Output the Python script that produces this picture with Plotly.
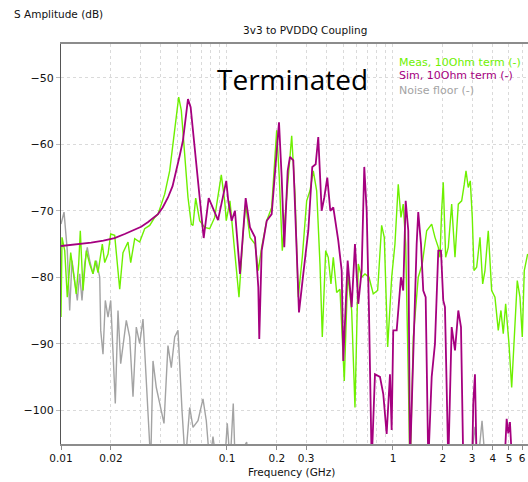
import plotly.graph_objects as go

# ---------------- data ----------------
sim_f = [0.01, 0.012, 0.0152, 0.018, 0.021, 0.0242, 0.027, 0.0304, 0.0335, 0.0384, 0.041, 0.0441,
         0.047, 0.0495, 0.052, 0.0543, 0.0563, 0.0582, 0.0604,
         0.0644, 0.0685, 0.0724, 0.0776, 0.0823, 0.0883, 0.099, 0.1018, 0.1067, 0.1117,
         0.1198, 0.1296, 0.1376, 0.1475, 0.1544, 0.1565, 0.1618, 0.1735, 0.1859, 0.1947,
         0.2058, 0.2136, 0.2214, 0.2321, 0.2396, 0.2509, 0.263, 0.2715, 0.2882, 0.3089,
         0.3265, 0.3422, 0.3548, 0.3719, 0.3856, 0.402, 0.4191, 0.437, 0.4683, 0.4909,
         0.5019, 0.5334, 0.5639, 0.5903, 0.618, 0.6477, 0.6716, 0.6943, 0.7168, 0.7443,
         0.7791, 0.8351, 0.8743, 0.9162, 0.9592, 0.982, 1.004, 1.053, 1.117, 1.153,
         1.193, 1.237, 1.266, 1.326, 1.389, 1.42, 1.475, 1.522, 1.574, 1.632,
         1.711, 1.791, 1.875, 1.946, 2.009, 2.057, 2.154, 2.258, 2.364, 2.475,
         2.569, 2.652, 3.0, 3.046, 3.119, 3.193, 4.7, 4.841, 4.95, 5.068, 5.22, 6.6]
sim_db = [-75.3, -75.1, -74.8, -74.5, -74.1, -73.5, -73.0, -72.4, -71.7, -70.5, -69.5, -68.0,
          -66.3, -64.0, -61.6, -59.4, -56.2, -53.2, -54.4,
          -61.4, -67.5, -74.1, -68.1, -69.5, -71.4, -65.5, -68.5, -71.5, -70.0,
          -79.5, -68.1, -72.5, -74.0, -81.5, -89.3, -76.0, -71.5, -70.5, -64.0,
          -56.7, -65.0, -75.5, -64.0, -61.9, -62.4, -77.5, -85.3, -79.5, -73.0,
          -63.4, -63.0, -58.9, -70.0, -68.0, -65.0, -70.0, -69.5, -74.5, -79.0,
          -92.6, -77.5, -84.5, -75.0, -84.0, -79.0, -63.4, -70.0, -85.0, -108.0,
          -94.6, -95.0, -97.6, -103.6, -94.6, -103.0, -88.0, -88.0, -80.0, -82.0,
          -68.5, -73.0, -108.0, -90.0, -75.0, -70.2, -75.0, -82.0, -83.0, -108.0,
          -95.0, -90.0, -76.0, -76.0, -83.5, -84.5, -108.0, -87.5, -91.0, -85.0,
          -87.5, -108.0, -108.0, -99.0, -94.6, -108.0, -108.0, -101.3, -103.5, -101.8, -108.0, -108.0]

meas_f = [0.01, 0.01014, 0.01053, 0.01091, 0.01144, 0.01198, 0.01236, 0.01278, 0.01307, 0.01357,
          0.0142, 0.01489, 0.01559, 0.01609, 0.01671, 0.01774, 0.01834, 0.0192, 0.01993, 0.02106,
          0.02258, 0.02363, 0.02533, 0.0263, 0.0278, 0.02979, 0.03193, 0.03422, 0.03669, 0.0384,
          0.04214, 0.04516, 0.04841, 0.05117, 0.05306, 0.05562, 0.05823, 0.06095, 0.0624, 0.06478,
          0.06846, 0.0734, 0.07866, 0.08433, 0.09242, 0.09685, 0.099, 0.1042, 0.1117, 0.1181,
          0.1254, 0.1296, 0.1376, 0.1475, 0.1544, 0.1618, 0.1735, 0.1859, 0.1993, 0.2066,
          0.2154, 0.2236, 0.2363, 0.2454, 0.2569, 0.2689, 0.2842, 0.3021, 0.3162, 0.3311,
          0.347, 0.3633, 0.3751, 0.3932, 0.4074, 0.423, 0.437, 0.4579, 0.4794, 0.5089,
          0.5334, 0.5639, 0.5903, 0.618, 0.6477, 0.6781, 0.7168, 0.7608, 0.8086, 0.8546,
          0.8864, 0.9292, 0.9822, 1.028, 1.076, 1.117, 1.153, 1.193, 1.237, 1.266,
          1.326, 1.42, 1.501, 1.596, 1.711, 1.791, 1.875, 1.919, 1.965, 2.009,
          2.077, 2.154, 2.258, 2.364, 2.475, 2.594, 2.689, 2.754, 2.842, 2.923,
          3.005, 3.076, 3.193, 3.343, 3.471, 3.583, 3.751, 3.932, 4.116, 4.309,
          4.473, 4.618, 4.774, 4.998, 5.19, 5.432, 5.609, 5.823, 6.012, 6.181, 6.478]
meas_db = [-86.0, -74.0, -76.0, -83.0, -76.3, -80.0, -82.5, -78.0, -73.0, -82.0,
           -76.0, -78.0, -79.5, -77.5, -79.3, -75.0, -77.8, -76.5, -73.5, -73.7,
           -81.8, -76.3, -74.7, -77.8, -74.2, -74.7, -72.7, -72.2, -71.0, -70.5,
           -67.5, -64.0, -57.4, -52.9, -54.9, -61.4, -68.0, -72.0, -72.2, -68.1,
           -71.5, -72.5, -72.7, -71.0, -64.6, -68.5, -71.5, -68.5, -77.0, -83.0,
           -73.0, -69.0, -74.0, -75.0, -79.0, -75.5, -71.5, -69.5, -57.9, -65.0,
           -76.0, -71.0, -62.4, -58.7, -67.5, -83.0, -77.0, -68.5, -67.0, -64.0,
           -67.0, -78.0, -89.0, -76.0, -77.0, -81.0, -77.0, -82.3, -81.8, -95.6,
           -79.5, -85.0, -99.6, -78.0, -80.0, -79.5, -80.0, -82.5, -82.0, -72.2,
           -74.0, -90.5, -80.0, -75.0, -66.0, -71.0, -69.0, -75.0, -95.0, -110.0,
           -89.0, -80.0, -78.0, -73.0, -72.0, -74.0, -75.5, -77.0, -70.0, -65.7,
           -77.0, -75.5, -69.0, -77.0, -69.0, -68.5, -66.0, -64.0, -66.5, -65.5,
           -71.0, -79.0, -78.5, -74.0, -81.0, -79.0, -73.0, -82.0, -83.0, -88.0,
           -85.0, -88.5, -84.0, -90.0, -96.6, -88.0, -80.5, -83.0, -89.0, -79.0, -76.5]

noise_f = [0.01, 0.01043, 0.01091, 0.01128, 0.01165, 0.01209, 0.01254, 0.01296, 0.01338, 0.01389,
           0.0144, 0.01489, 0.01559, 0.01632, 0.01711, 0.01735, 0.01791, 0.01849, 0.0192, 0.01993,
           0.02057, 0.02124, 0.02205, 0.02289, 0.02373, 0.02474, 0.02593, 0.02715, 0.02842, 0.02979,
           0.03119, 0.03265, 0.0347, 0.03583, 0.03751, 0.03932, 0.04174, 0.0441, 0.04618, 0.04841,
           0.05068, 0.05357, 0.05609, 0.05962, 0.0624, 0.06688, 0.07168, 0.07505, 0.07866, 0.08234,
           0.0865, 0.0968, 0.1004, 0.1045, 0.1091, 0.112, 0.1314, 0.135, 2.95, 3.119,
           3.25, 3.44, 3.6, 6.6]
noise_db = [-72.0, -70.2, -76.0, -85.0, -77.5, -81.0, -83.5, -79.5, -83.5, -78.0,
            -75.5, -77.5, -79.5, -77.5, -80.0, -88.0, -91.6, -83.5, -86.0, -83.5,
            -92.0, -99.0, -85.0, -93.0, -90.0, -86.5, -89.0, -98.0, -87.5, -90.0,
            -86.3, -95.0, -108.0, -92.6, -96.6, -99.0, -102.0, -90.3, -93.6, -89.0,
            -88.0, -100.0, -108.0, -99.6, -102.6, -101.6, -98.3, -101.6, -108.0, -104.0,
            -108.0, -108.0, -102.0, -108.0, -99.0, -108.0, -104.8, -108.0, -108.0, -102.5,
            -108.0, -101.6, -108.0, -108.0]

x_tick_vals = [0.01, 0.02, 0.1, 0.2, 0.3, 1, 2, 3, 4, 5, 6]
x_tick_text = ["0.01", "0.02", "0.1", "0.2", "0.3", "1", "2", "3", "4", "5", "6"]
x_grid_vals = [0.03, 0.04, 0.05, 0.06, 0.07, 0.08, 0.09, 0.4, 0.5, 0.6, 0.7, 0.8, 0.9]
y_tick_vals = [-100, -90, -80, -70, -60, -50]

series_names = ["Meas, 10Ohm term (-)", "Sim, 10Ohm term (-)", "Noise floor (-)"]
GREEN = "#6ef000"
MAGENTA = "#a5007f"
GRAY = "#a3a3a3"

# ---------------- figure ----------------
fig = go.Figure()
fig.add_trace(go.Scatter(x=noise_f, y=noise_db, mode="lines", line=dict(color=GRAY, width=1.4),
                         name=series_names[2]))
fig.add_trace(go.Scatter(x=meas_f, y=meas_db, mode="lines", line=dict(color=GREEN, width=1.4),
                         name=series_names[0]))
fig.add_trace(go.Scatter(x=sim_f, y=sim_db, mode="lines", line=dict(color=MAGENTA, width=1.8),
                         name=series_names[1]))

FONT = "DejaVu Sans"
TXT = "#111"
fig.update_layout(
    width=528, height=482,
    margin=dict(l=61, r=0, t=44, b=38),
    paper_bgcolor="white", plot_bgcolor="white",
    showlegend=False,
    font=dict(family=FONT, size=10.5, color=TXT),
)
fig.update_xaxes(
    type="log", range=[-2, 0.8135],
    tickvals=x_tick_vals, ticktext=x_tick_text,
    showgrid=True, gridcolor="#dadada", griddash="dot", gridwidth=1,
    minor=dict(tickvals=x_grid_vals, showgrid=True, gridcolor="#dadada", griddash="dot", ticks=""),
    showline=True, linecolor="#8c8c8c", linewidth=1.5, mirror=True,
    ticks="outside", ticklen=4, tickcolor="#8c8c8c",
    tickfont=dict(family=FONT, size=10.5, color=TXT),
    zeroline=False,
)
fig.update_yaxes(
    range=[-105.1, -44.9],
    tickvals=y_tick_vals,
    showgrid=True, gridcolor="#dadada", griddash="dot", gridwidth=1,
    showline=True, linecolor="#555", linewidth=1,
    ticks="outside", ticklen=4, tickcolor="#bbb",
    tickfont=dict(family=FONT, size=11, color=TXT),
    zeroline=False,
)

def px_x(px):
    return (px - 61) / 467.0

def px_y(py):
    return (444 - py) / 400.0

ann = [
    dict(text="S Amplitude (dB)", x=px_x(12), y=px_y(14), xanchor="left", yanchor="middle",
         font=dict(family=FONT, size=10.5, color=TXT)),
    dict(text="3v3 to PVDDQ Coupling", x=px_x(305), y=px_y(30), xanchor="center", yanchor="middle",
         font=dict(family=FONT, size=10.5, color=TXT)),
    dict(text="Frequency (GHz)", x=px_x(291), y=px_y(472), xanchor="center", yanchor="middle",
         font=dict(family=FONT, size=10.5, color=TXT)),
    dict(text="Terminated", x=px_x(292), y=px_y(79), xanchor="center", yanchor="middle",
         font=dict(family="Open Sans", size=28, color="black")),
    dict(text=series_names[0], x=px_x(397), y=px_y(62), xanchor="left", yanchor="middle",
         font=dict(family=FONT, size=11, color=GREEN)),
    dict(text=series_names[1], x=px_x(397), y=px_y(76), xanchor="left", yanchor="middle",
         font=dict(family=FONT, size=11, color=MAGENTA)),
    dict(text=series_names[2], x=px_x(397), y=px_y(90), xanchor="left", yanchor="middle",
         font=dict(family=FONT, size=11, color=GRAY)),
]
for a in ann:
    fig.add_annotation(xref="paper", yref="paper", showarrow=False, **a)

fig.write_html("out.html")
